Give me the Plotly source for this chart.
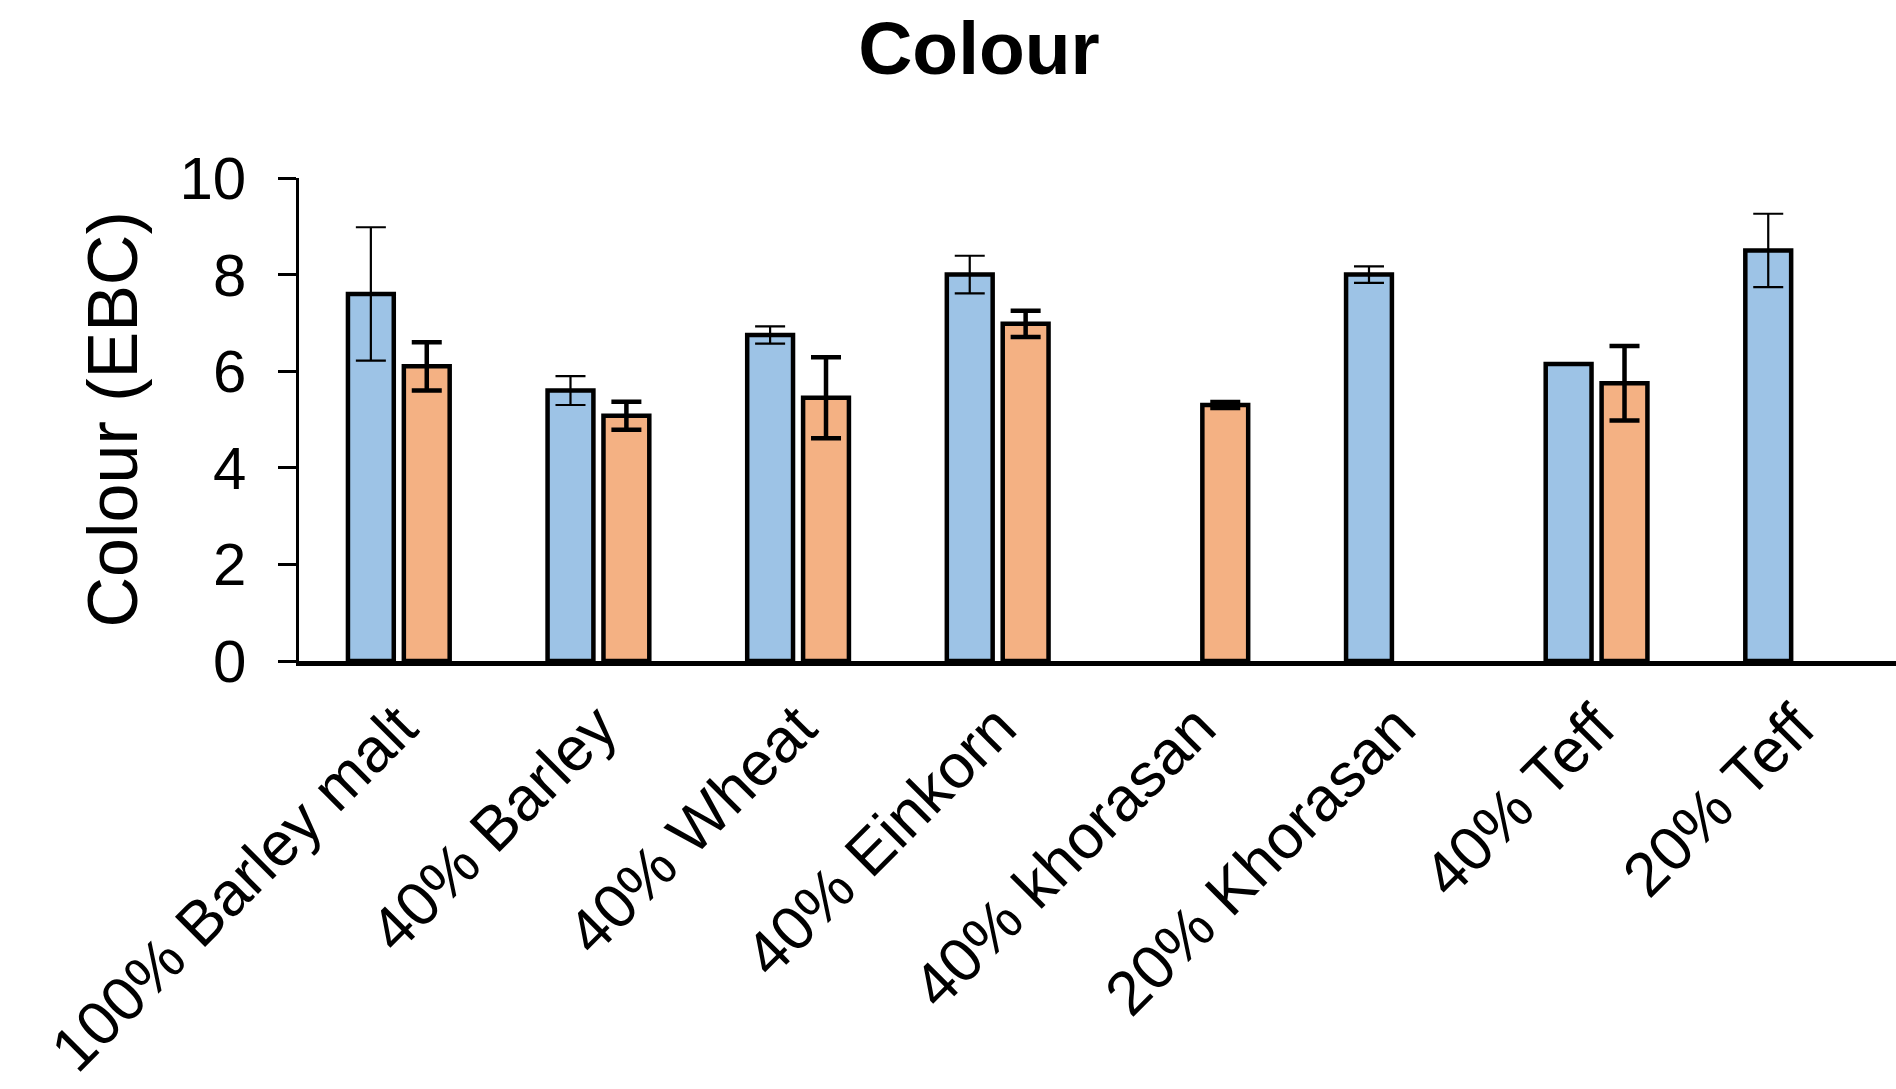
import plotly.graph_objects as go

# Malt/adjunct blends and their measured colour (EBC), mean and standard deviation
categories = ["100% Barley malt", "40% Barley", "40% Wheat", "40% Einkorn",
              "40% khorasan", "20% Khorasan", "40% Teff", "20% Teff"]

blue_values = [7.6, 5.6, 6.75, 8.0, None, 8.0, 6.15, 8.5]
blue_errors = [1.38, 0.3, 0.18, 0.39, 0, 0.17, 0, 0.76]

orange_values = [6.1, 5.08, 5.45, 6.98, 5.3, None, 5.75, None]
orange_errors = [0.5, 0.29, 0.84, 0.27, 0.06, 0, 0.77, 0]

y_ticks = [0, 2, 4, 6, 8, 10]

FONT = "Liberation Sans, Arial, sans-serif"
W, H = 1896, 1089
L, R, T, B = 299, 0, 178, 428

fig = go.Figure()
fig.add_trace(go.Bar(
    x=categories, y=blue_values,
    marker=dict(color="#9DC3E6", line=dict(color="black", width=4.5)),
    error_y=dict(type="data", array=blue_errors, visible=True,
                 color="black", thickness=2.2, width=15),
    showlegend=False,
))
fig.add_trace(go.Bar(
    x=categories, y=orange_values,
    marker=dict(color="#F4B183", line=dict(color="black", width=4.5)),
    error_y=dict(type="data", array=orange_errors, visible=True,
                 color="black", thickness=4.5, width=15),
    showlegend=False,
))

fig.update_layout(
    width=W, height=H,
    margin=dict(l=L, r=R, t=T, b=B, pad=0, autoexpand=False),
    paper_bgcolor="white", plot_bgcolor="white",
    barmode="group", bargap=0.44, bargroupgap=0.18,
    font=dict(family=FONT, color="black"),
    title=dict(text="<b>Colour</b>", x=979 / W, xanchor="center",
               y=1 - 48 / H, yanchor="middle",
               font=dict(family=FONT, size=75, color="black")),
)

fig.update_xaxes(
    automargin=False,
    showline=True, linecolor="black", linewidth=5,
    ticks="", tickangle=-45,
    tickfont=dict(family=FONT, size=62, color="black"),
    showgrid=False, zeroline=False,
)
fig.update_yaxes(
    automargin=False,
    range=[0, 10], tickvals=y_ticks, ticktext=[str(v) for v in y_ticks],
    showline=True, linecolor="black", linewidth=2.5,
    ticks="outside", ticklen=18, tickwidth=2.5, tickcolor="black",
    ticklabelstandoff=20,
    tickfont=dict(family=FONT, size=60, color="black"),
    showgrid=False, zeroline=False,
)

fig.add_annotation(
    text="Colour (EBC)", textangle=-90,
    xref="paper", yref="paper",
    x=(112 - L) / (W - L - R), y=0.5,
    xanchor="center", yanchor="middle", showarrow=False,
    font=dict(family=FONT, size=70, color="black"),
)

fig.write_html("out.html")
